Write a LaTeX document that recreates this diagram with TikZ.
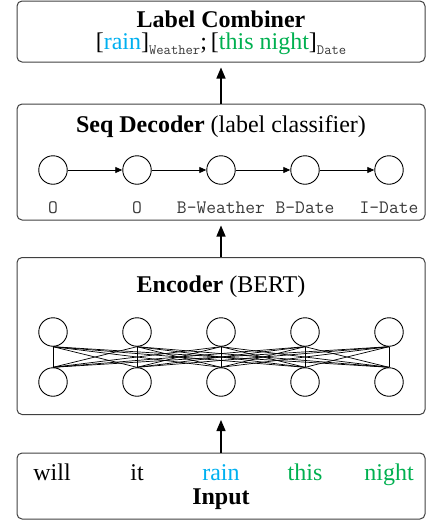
\documentclass[tikz,border=0pt]{standalone}
\usepackage{fontspec}
\setmainfont{Liberation Serif}
\usetikzlibrary{arrows.meta}
\definecolor{rainblue}{HTML}{00B0F0}
\definecolor{datagreen}{HTML}{00B050}
\definecolor{boxgray}{HTML}{404040}
\definecolor{taggray}{HTML}{383838}
\newcommand{\monotag}[1]{{\ttfamily #1}}
\begin{document}
\begin{tikzpicture}[x=1pt,y=-1pt,
  panel/.style={draw=boxgray, line width=1pt, rounded corners=5pt, inner sep=0pt},
  title/.style={font=\fontsize{24}{26}\selectfont, inner sep=0pt},
  word/.style={font=\fontsize{24}{26}\selectfont, inner sep=0pt, anchor=base},
  tag/.style={font=\fontsize{19}{20}\selectfont, text=taggray, inner sep=0pt, anchor=base},
  neuron/.style={circle, draw, line width=0.9pt, minimum size=28.5pt, inner sep=0pt},
  uparrow/.style={-{Triangle[length=11pt,width=9pt]}, line width=1.3pt, shorten >=5pt},
  chain/.style={-{Triangle[length=7pt,width=6pt]}, line width=0.8pt},
  mesh/.style={line width=0.7pt}
]
\useasboundingbox (0,0) rectangle (427,523);

% boxes
\node[panel, minimum width=408pt, minimum height=61pt] (lc) at (221,31.5) {};
\node[panel, minimum width=408pt, minimum height=116pt] (dec) at (221,162) {};
\node[panel, minimum width=408pt, minimum height=157pt] (enc) at (221,336) {};
\node[panel, minimum width=408pt, minimum height=66pt] (inp) at (221,486) {};

% label combiner
\node[title] (lctitle) at (221,19) {\textbf{Label Combiner}};
\node[title] (lcsub) at (221,44) {[\textcolor{rainblue}{rain}]\raisebox{-4.5pt}{\fontsize{14.2}{15}\selectfont\color{taggray}\monotag{Weather}};\,[\textcolor{datagreen}{this night}]\raisebox{-4.5pt}{\fontsize{14.2}{15}\selectfont\color{taggray}\monotag{Date}}};

% decoder
\node[title] (dectitle) at (221,127) {\textbf{Seq Decoder} (label classifier)};
\foreach \i/\x/\t in {1/53/O, 2/137/O, 3/221/B-Weather, 4/305/B-Date, 5/389/I-Date} {
  \node[neuron] (d\i) at (\x,170) {};
  \node[tag] (dl\i) at (\x,213) {\monotag{\t}};
}
\foreach \i/\j in {1/2,2/3,3/4,4/5} \draw[chain] (d\i) -- (d\j);

% encoder
\node[title] (enctitle) at (221,287) {\textbf{Encoder} (BERT)};
\foreach \i/\x in {1/53,2/137,3/221,4/305,5/389} {
  \node[neuron] (t\i) at (\x,332) {};
  \node[neuron] (b\i) at (\x,382) {};
}
\foreach \i in {1,...,5} \foreach \j in {1,...,5} \draw[mesh] (t\i.south) -- (b\j.north);

% input
\foreach \i/\x/\w/\c in {1/52/will/black, 2/137/it/black, 3/221/rain/rainblue, 4/305/this/datagreen, 5/389/night/datagreen}
  \node[word, text=\c] (w\i) at (\x,480) {\w};
\node[title] (inptitle) at (221,499) {\textbf{Input}};

% arrows
\draw[uparrow] (dec.north) -- (lc.south);
\draw[uparrow] (enc.north) -- (dec.south);
\draw[uparrow] (inp.north) -- (enc.south);
\end{tikzpicture}
\end{document}
